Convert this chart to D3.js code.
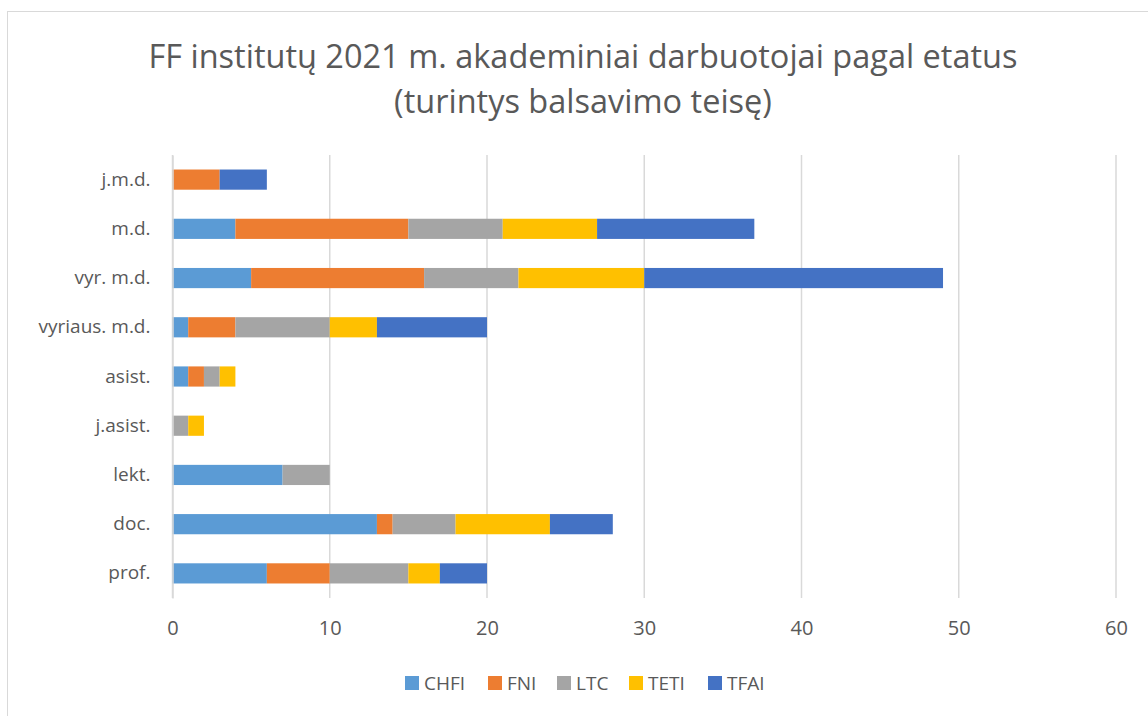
<!DOCTYPE html>
<html><head><meta charset="utf-8">
<script src="https://cdn.jsdelivr.net/npm/d3@7"></script>
<style>body{margin:0;background:#fff}svg{display:block}</style>
</head><body>
<svg id="c" width="1148" height="716"></svg>
<script>
const categories = ["j.m.d.","m.d.","vyr. m.d.","vyriaus. m.d.","asist.","j.asist.","lekt.","doc.","prof."];
const seriesNames = ["CHFI","FNI","LTC","TETI","TFAI"];
const CHFI = [0,4,5,1,1,0,7,13,6];
const FNI  = [3,11,11,3,1,0,0,1,4];
const LTC  = [0,6,6,6,1,1,3,4,5];
const TETI = [0,6,8,3,1,1,0,6,2];
const TFAI = [3,10,19,7,0,0,0,4,3];
const xTicks = [0,10,20,30,40,50,60];
const colors = ["#5b9bd5","#ed7d31","#a5a5a5","#ffc000","#4472c4"];
const titleLines = ["FF institutų 2021 m. akademiniai darbuotojai pagal etatus","(turintys balsavimo teisę)"];

const font = "'Open Sans', sans-serif";
const svg = d3.select("#c");
svg.append("rect").attr("x",7.5).attr("y",11.5).attr("width",1200).attr("height",800)
  .attr("fill","#fff").attr("stroke","#d9d9d9").attr("stroke-width",1);

const x = d3.scaleLinear().domain([0,60]).range([172.5,1116]);
const y = d3.scaleBand().domain(categories).range([155,598]).paddingInner(0.59).paddingOuter(0.295);

// gridlines
svg.append("g").selectAll("line").data(xTicks).join("line")
  .attr("x1",d=>x(d)).attr("x2",d=>x(d)).attr("y1",155).attr("y2",598)
  .attr("stroke","#d9d9d9").attr("stroke-width",1.5);

const table = categories.map((c,i)=>({cat:c,CHFI:CHFI[i],FNI:FNI[i],LTC:LTC[i],TETI:TETI[i],TFAI:TFAI[i]}));
const stacked = d3.stack().keys(seriesNames)(table);
svg.append("g").selectAll("g").data(stacked).join("g")
  .attr("fill",(d,i)=>colors[i])
  .selectAll("rect").data(d=>d).join("rect")
  .attr("x",d=>x(d[0])).attr("width",d=>x(d[1])-x(d[0]))
  .attr("y",d=>y(d.data.cat)).attr("height",y.bandwidth());

// x axis labels
const xa = svg.append("g").attr("transform","translate(0,598)")
  .call(d3.axisBottom(x).tickValues(xTicks).tickSize(0).tickPadding(23));
xa.select(".domain").remove();
xa.selectAll("text").attr("font-family",font).attr("font-size",20).attr("fill","#595959");

// y axis labels
const ya = svg.append("g").attr("transform","translate(172.5,0)")
  .call(d3.axisLeft(y).tickSize(0).tickPadding(22));
ya.select(".domain").attr("stroke","#d9d9d9").attr("stroke-width",1.5);
ya.selectAll("text").attr("font-family",font).attr("font-size",19).attr("fill","#595959");

// title
svg.append("g").selectAll("text").data(titleLines).join("text")
  .attr("x",583).attr("y",(d,i)=>68+i*45).attr("text-anchor","middle")
  .attr("font-family",font).attr("font-size",32.5).attr("fill","#595959").text(d=>d);

// legend
const legX = [405,488,557,629,708];
const lg = svg.append("g").selectAll("g").data(seriesNames).join("g")
  .attr("transform",(d,i)=>`translate(${legX[i]},676)`);
lg.append("rect").attr("width",14).attr("height",14).attr("fill",(d,i)=>colors[i]);
lg.append("text").attr("x",19).attr("y",14).attr("font-family",font).attr("font-size",19)
  .attr("fill","#595959").text(d=>d);
</script>
</body></html>
